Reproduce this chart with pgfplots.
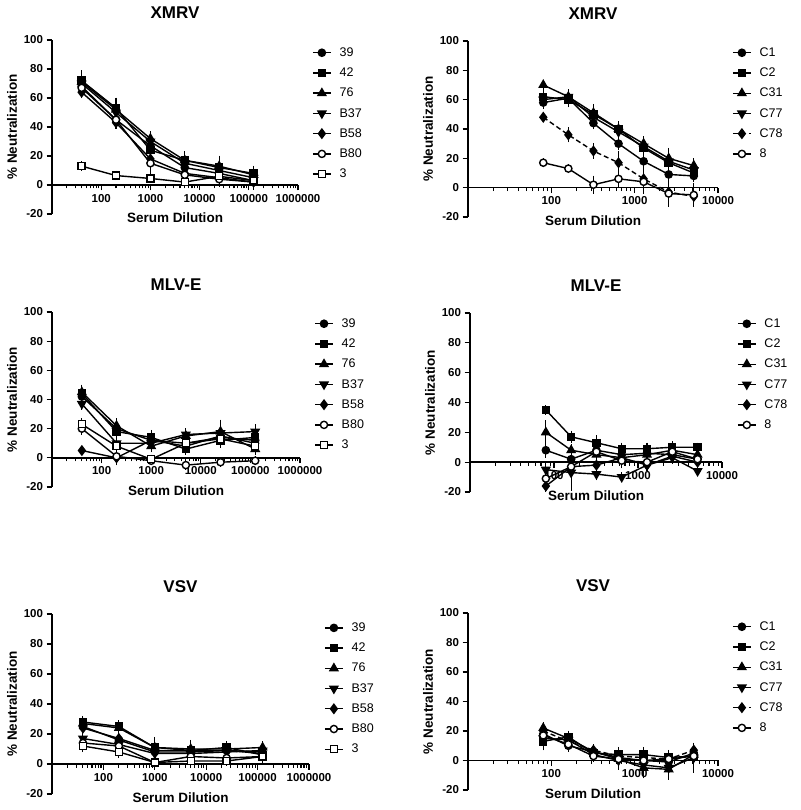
\documentclass[border=0pt]{standalone}
\usepackage{fontspec}
\setmainfont{Liberation Sans}
\usepackage{pgfplots}
\pgfplotsset{compat=1.18}

\pgfplotsset{
  legend image code/.code={\draw[mark repeat=2,mark phase=2,#1] plot coordinates {(0pt,0pt) (9pt,0pt) (18pt,0pt)};\path (24pt,0pt);},
}
\pgfplotsset{
 every axis/.append style={
  scale only axis, enlargelimits=false,
  ymin=-20, ymax=100, ytick={-20,0,20,40,60,80,100}, yticklabels={-20,0,20,40,60,80,100},
  axis y line=left, axis x line=middle,
  axis line style={-, line width=1.4pt, black},
  tick style={black, line width=1.1pt},
  tick align=outside, major tick length=5.5pt, minor tick length=3.5pt,
  ticklabel style={font=\fontsize{11.5}{12}\selectfont\bfseries},
  xlabel={Serum Dilution}, ylabel={\% Neutralization},
  xlabel style={at={(axis description cs:0.5,0)}, anchor=north, yshift=5pt, font=\fontsize{13.5}{14}\selectfont\bfseries},
  ylabel style={font=\fontsize{13.5}{14}\selectfont\bfseries},
  title style={at={(axis description cs:0.5,1)}, anchor=base, yshift=15pt, font=\fontsize{17}{18}\selectfont\bfseries},
  legend cell align=left,
  legend style={draw=none, fill=none, anchor=north west, xshift=-6pt, yshift=3pt, font=\fontsize{12.5}{13}\selectfont, row sep=6pt},
  clip=false,
 },
 mywide/.style={xmin=10, xmax=1000000, xtick={10,100,1000,10000,100000,1000000},
  xticklabels={,100,1000,10000,100000,1000000},
  minor xtick={20,30,40,50,60,70,80,90,200,300,400,500,600,700,800,900,2000,3000,4000,5000,6000,7000,8000,9000,20000,30000,40000,50000,60000,70000,80000,90000,200000,300000,400000,500000,600000,700000,800000,900000}},
 mynarrow/.style={xmin=10, xmax=10000, xtick={10,100,1000,10000},
  xticklabels={,100,1000,10000},
  minor xtick={20,30,40,50,60,70,80,90,200,300,400,500,600,700,800,900,2000,3000,4000,5000,6000,7000,8000,9000}},
 myser/.style={black, line width=1.4pt,
  error bars/y dir=both, error bars/y explicit,
  error bars/error bar style={line width=1.1pt, solid},
  error bars/error mark options={solid, black, mark size=3.2pt, line width=1.1pt}},
 mkA/.style={myser, mark=*, mark size=3.6pt, mark options={solid, fill=black}},
 mkB/.style={myser, mark=square*, mark size=3.5pt, mark options={solid, fill=black}},
 mkC/.style={myser, mark=triangle*, mark size=4.5pt, mark options={solid, fill=black}},
 mkD/.style={myser, mark=triangle*, mark size=4.5pt, mark options={solid, fill=black, rotate=180}},
 mkE/.style={myser, mark=diamond*, mark size=4.5pt, mark options={solid, fill=black}},
 mkF/.style={myser, mark=*, mark size=3.6pt, mark options={solid, fill=white}},
 mkG/.style={myser, mark=square*, mark size=3.5pt, mark options={solid, fill=white}},
 mydsh/.style={dash pattern=on 5pt off 3pt},
}

\begin{document}
\begin{tikzpicture}
\useasboundingbox (0,0) rectangle (800pt,810pt);

% ---------- Panel 1: XMRV (left)
\begin{axis}[xmode=log, mywide, at={(52pt,596pt)}, anchor=south west, width=246pt, height=174pt,
  title={XMRV}, legend style={at={(1.069,0.963)}},
  legend entries={39,42,76,B37,B58,B80,3}]
\addplot[mkA] table[x index=0,y index=1,y error index=2]{
40 68 3
200 45 3
1000 27 3
5000 12 3
25000 8 3
125000 3 3
};
\addplot[mkB] table[x index=0,y index=1,y error index=2]{
40 72 5
200 53 5
1000 24 4
5000 17 4
25000 12 6
125000 8 3
};
\addplot[mkC] table[x index=0,y index=1,y error index=2]{
40 71 3
200 52 3
1000 32 3
5000 17 3
25000 13 3
125000 7 2
};
\addplot[mkD] table[x index=0,y index=1,y error index=2]{
40 70 3
200 50 3
1000 30 3
5000 15 3
25000 10 3
125000 5 6
};
\addplot[mkE] table[x index=0,y index=1,y error index=2]{
40 64 2
200 43 2
1000 18 3
5000 8 3
25000 5 3
125000 2 3
};
\addplot[mkF] table[x index=0,y index=1,y error index=2]{
40 67 2
200 45 2
1000 15 6
5000 7 3
25000 4 3
125000 2 2
};
\addplot[mkG] table[x index=0,y index=1,y error index=2]{
40 13 1
200 6.5 1
1000 4.5 1
5000 2 1
25000 6 1
125000 3 1
};
\end{axis}

% ---------- Panel 2: XMRV (right)
\begin{axis}[xmode=log, mynarrow, at={(468pt,593pt)}, anchor=south west, width=250pt, height=176pt,
  title={XMRV}, legend style={at={(1.068,0.969)}},
  legend entries={C1,C2,C31,C77,C78,8}]
\addplot[mkA] table[x index=0,y index=1,y error index=2]{
80 58 2
160 61 2
320 44 2
640 30 2
1280 18 2
2560 9 2
5120 8 2
};
\addplot[mkB] table[x index=0,y index=1,y error index=2]{
80 62 3
160 60 3
320 50 4
640 40 3
1280 27 3
2560 17 3
5120 10 3
};
\addplot[mkC] table[x index=0,y index=1,y error index=2]{
80 70 1
160 62 2
320 51 4
640 40 2
1280 30 3
2560 20 5
5120 15 3
};
\addplot[mkD] table[x index=0,y index=1,y error index=2]{
80 60 3
160 62 3
320 48 5
640 38 3
1280 28 3
2560 18 6
5120 12 4
};
\addplot[mkE, mydsh] table[x index=0,y index=1,y error index=2]{
80 48 1
160 36 3
320 25 3
640 17 6
1280 6 8
2560 -3 2
5120 -6 3
};
\addplot[mkF] table[x index=0,y index=1,y error index=2]{
80 17 1
160 13 1
320 2 4
640 6 4
1280 4 3
2560 -4 7
5120 -5 6
};
\end{axis}

% ---------- Panel 3: MLV-E (left)
\begin{axis}[xmode=log, mywide, at={(52pt,323pt)}, anchor=south west, width=248pt, height=175pt,
  title={MLV-E}, legend style={at={(1.069,0.969)}},
  legend entries={39,42,76,B37,B58,B80,3}]
\addplot[mkA] table[x index=0,y index=1,y error index=2]{
40 42 2
200 20 3
1000 12 2
5000 10 3
25000 14 3
125000 12 3
};
\addplot[mkB] table[x index=0,y index=1,y error index=2]{
40 44 3
200 18 4
1000 14 3
5000 6 2
25000 12 3
125000 14 4
};
\addplot[mkC] table[x index=0,y index=1,y error index=2]{
40 45 3
200 22 3
1000 8 2
5000 15 3
25000 18 6
125000 6 2
};
\addplot[mkD] table[x index=0,y index=1,y error index=2]{
40 37 2
200 10 3
1000 10 2
5000 16 2
25000 17 3
125000 18 3
};
\addplot[mkE] table[x index=0,y index=1,y error index=2]{
40 5 1
200 0 3
1000 12 2
5000 8 2
25000 15 2
125000 10 3
};
\addplot[mkF] table[x index=0,y index=1,y error index=2]{
40 20 2
200 1 2
1000 -2 1
5000 -5 1
25000 -3 1
125000 -2 1
};
\addplot[mkG] table[x index=0,y index=1,y error index=2]{
40 23 2
200 8 3
1000 -1 1
5000 10 2
25000 13 2
125000 8 2
};
\end{axis}

% ---------- Panel 4: MLV-E (right)
\begin{axis}[xmode=log, mynarrow, at={(470pt,318pt)}, anchor=south west, width=252pt, height=179pt,
  title={MLV-E}, legend style={at={(1.071,0.975)}},
  legend entries={C1,C2,C31,C77,C78,8}]
\addplot[mkA] table[x index=0,y index=1,y error index=2]{
80 8 3
160 2 2
320 8 3
640 5 2
1280 6 2
2560 5 2
5120 2 2
};
\addplot[mkB] table[x index=0,y index=1,y error index=2]{
80 35 1
160 17 2
320 13 3
640 9 2
1280 9 2
2560 10 2
5120 10 1
};
\addplot[mkC] table[x index=0,y index=1,y error index=2]{
80 20 6
160 8 2
320 5 2
640 3 2
1280 5 2
2560 8 2
5120 5 2
};
\addplot[mkD] table[x index=0,y index=1,y error index=2]{
80 -5 2
160 -7 10
320 -8 2
640 -10 1
1280 -2 2
2560 3 2
5120 -6 1
};
\addplot[mkE] table[x index=0,y index=1,y error index=2]{
80 -16 2
160 -3 3
320 -2 2
640 3 2
1280 -2 2
2560 4 2
5120 0 2
};
\addplot[mkF] table[x index=0,y index=1,y error index=2]{
80 -11 2
160 -3 3
320 7 8
640 1 3
1280 0 3
2560 7 3
5120 2 2
};
\end{axis}

% ---------- Panel 5: VSV (left)
\begin{axis}[xmode=log, mywide, at={(52pt,16pt)}, anchor=south west, width=257pt, height=180pt,
  title={VSV}, legend style={at={(1.07,0.958)}},
  legend entries={39,42,76,B37,B58,B80,3}]
\addplot[mkA] table[x index=0,y index=1,y error index=2]{
40 25 2
200 16 2
1000 8 2
5000 8 2
25000 9 2
125000 8 2
};
\addplot[mkB] table[x index=0,y index=1,y error index=2]{
40 28 2
200 25 2
1000 11 5
5000 9 2
25000 11 2
125000 6 2
};
\addplot[mkC] table[x index=0,y index=1,y error index=2]{
40 27 2
200 24 2
1000 11 2
5000 10 4
25000 10 2
125000 11 2
};
\addplot[mkD] table[x index=0,y index=1,y error index=2]{
40 17 2
200 13 2
1000 7 2
5000 7 2
25000 8 2
125000 9 2
};
\addplot[mkE] table[x index=0,y index=1,y error index=2]{
40 24 2
200 17 2
1000 9 2
5000 9 2
25000 9 2
125000 7 2
};
\addplot[mkF] table[x index=0,y index=1,y error index=2]{
40 14 2
200 12 2
1000 1 2
5000 5 2
25000 4 2
125000 5 2
};
\addplot[mkG] table[x index=0,y index=1,y error index=2]{
40 12 2
200 8 2
1000 1 1
5000 2 1
25000 2 1
125000 5 2
};
\end{axis}

% ---------- Panel 6: VSV (right)
\begin{axis}[xmode=log, mynarrow, at={(468pt,20pt)}, anchor=south west, width=250pt, height=177pt,
  title={VSV}, legend style={at={(1.068,0.958)}},
  legend entries={C1,C2,C31,C77,C78,8}]
\addplot[mkA] table[x index=0,y index=1,y error index=2]{
80 18 2
160 10 2
320 6 2
640 2 2
1280 0 2
2560 -1 2
5120 5 2
};
\addplot[mkB] table[x index=0,y index=1,y error index=2]{
80 13 4
160 16 2
320 5 2
640 4 3
1280 4 3
2560 2 3
5120 3 2
};
\addplot[mkC] table[x index=0,y index=1,y error index=2]{
80 22 2
160 15 2
320 6 2
640 1 3
1280 -5 5
2560 -6 4
5120 4 2
};
\addplot[mkD] table[x index=0,y index=1,y error index=2]{
80 15 3
160 14 2
320 4 2
640 0 4
1280 -3 3
2560 -5 6
5120 2 8
};
\addplot[mkE, mydsh] table[x index=0,y index=1,y error index=2]{
80 20 2
160 13 2
320 7 2
640 3 2
1280 2 2
2560 1 2
5120 7 2
};
\addplot[mkF] table[x index=0,y index=1,y error index=2]{
80 17 2
160 11 2
320 3 2
640 1 2
1280 0 2
2560 1 2
5120 3 2
};
\end{axis}
\end{tikzpicture}
\end{document}
